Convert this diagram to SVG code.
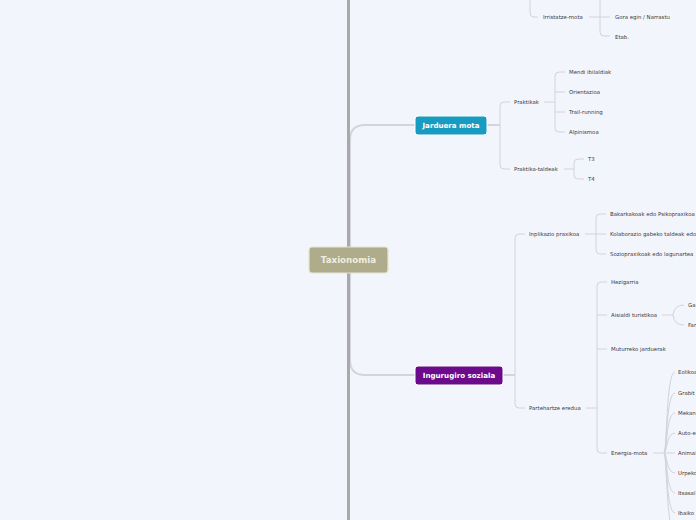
<svg xmlns="http://www.w3.org/2000/svg" width="696" height="520" viewBox="0 0 696 520">
<style>
.c{fill:none;stroke:#d2d2dc;stroke-width:1}
.m{fill:none;stroke:#d4d4de;stroke-width:2}
.t{font-family:"DejaVu Sans",Verdana,sans-serif;font-size:5.4px;fill:#3a3a3a}
.n{font-family:"DejaVu Sans",Verdana,sans-serif;font-size:7.1px;font-weight:bold;fill:#ffffff;text-anchor:middle}
</style>
<rect width="696" height="520" fill="#f3f5fd"/>
<g id="connectors">
<path class="m" d="M350 247 L350 140 Q350 125 365 125 L415 125"/>
<path class="m" d="M350 273 L350 360 Q350 375 365 375 L415 375"/>
<path class="m" d="M487 125 L500 125"/>
<path class="c" d="M510 102 L504 102 Q500 102 500 106 L500 165 Q500 169 504 169 L510 169"/>
<path class="c" d="M544 102 L555 102"/>
<path class="c" d="M565 72 L559 72 Q555 72 555 76 L555 128 Q555 132 559 132 L565 132 M555 92 L565 92 M555 112 L565 112"/>
<path class="c" d="M564 169 L574 169"/>
<path class="c" d="M584 159 L578 159 Q574 159 574 163 L574 175 Q574 179 578 179 L584 179"/>
<path class="c" d="M530 0 L530 13 Q530 17 534 17 L538 17"/>
<path class="c" d="M589 17 L600 17 M600 0 L600 32 Q600 36 604 36 L610 36 M600 17 L610 17"/>
<path class="m" d="M503 375 L515 375"/>
<path class="c" d="M525 234 L519 234 Q515 234 515 238 L515 404 Q515 408 519 408 L525 408"/>
<path class="c" d="M585 234 L596 234"/>
<path class="c" d="M606 214 L600 214 Q596 214 596 218 L596 250 Q596 254 600 254 L606 254 M596 234 L606 234"/>
<path class="c" d="M586 408 L597 408"/>
<path class="c" d="M607 282 L601 282 Q597 282 597 286 L597 449 Q597 453 601 453 L607 453 M597 315 L607 315 M597 349 L607 349"/>
<path class="c" d="M662 315 L673 315 M684 305 Q674 305 673 315 Q674 325 684 325"/>
<path class="c" d="M653 453 L664 453"/>
<path class="c" d="M664 453 C667 453 666 372 675 372 M664 453 C667 453 666 393 675 393 M664 453 C667 453 666 413 675 413 M664 453 C667 453 666 433 675 433 M664 453 L675 453 M664 453 C667 453 666 473 675 473 M664 453 C667 453 666 493 675 493 M664 453 C667 453 666 513 675 513 M664 453 C667 453 666 533 675 533"/>
<path d="M348.5 0 L348.5 520" stroke="#a9a9a9" stroke-width="3" fill="none"/>
</g>
<g id="root">
<rect x="309" y="247" width="79" height="26" rx="3" fill="#afac8c" stroke="#e6e4cf" stroke-width="1.2"/>
<text x="348.5" y="263.2" class="n" style="font-size:8.7px;fill:#efeedf">Taxionomia</text>
</g>
<g id="jarduera">
<rect x="415" y="116" width="72" height="19" rx="3" fill="#189bc0" stroke="#ffffff" stroke-width="1"/>
<text x="451" y="127.6" class="n">Jarduera mota</text>
</g>
<g id="ingurugiro">
<rect x="415" y="366" width="88" height="19" rx="3" fill="#6b0a8b" stroke="#ffffff" stroke-width="1"/>
<text x="459" y="377.6" class="n">Ingurugiro soziala</text>
</g>
<g id="irristatze"><text x="543" y="19" class="t">Irristatze-mota</text></g>
<g id="gora"><text x="615" y="19" class="t">Gora egin / Narrastu</text></g>
<g id="etab"><text x="615" y="38.5" class="t">Etab.</text></g>
<g id="praktikak"><text x="514" y="104" class="t">Praktikak</text></g>
<g id="mendi"><text x="569" y="74" class="t">Mendi ibilaldiak</text></g>
<g id="orientazioa"><text x="569" y="94" class="t">Orientazioa</text></g>
<g id="trail"><text x="569" y="114" class="t">Trail-running</text></g>
<g id="alpinismoa"><text x="569" y="133.5" class="t">Alpinismoa</text></g>
<g id="praktika-taldeak"><text x="514" y="171" class="t">Praktika-taldeak</text></g>
<g id="t3"><text x="588" y="161" class="t">T3</text></g>
<g id="t4"><text x="588" y="181" class="t">T4</text></g>
<g id="inplikazio"><text x="529" y="236" class="t">Inplikazio praxikoa</text></g>
<g id="bakarkakoak"><text x="610" y="216" class="t">Bakarkakoak edo Psikopraxikoa</text></g>
<g id="kolaborazio"><text x="610" y="236" class="t">Kolaborazio gabeko taldeak edo</text></g>
<g id="soziopraxikoak"><text x="610" y="256" class="t">Soziopraxikoak edo lagunartea</text></g>
<g id="partehartze"><text x="529" y="410" class="t">Partehartze eredua</text></g>
<g id="hezigarria"><text x="611" y="284" class="t">Hezigarria</text></g>
<g id="aisialdi"><text x="611" y="317" class="t">Aisialdi turistikoa</text></g>
<g id="ga"><text x="688" y="307" class="t">Ga</text></g>
<g id="far"><text x="688" y="327" class="t">Far</text></g>
<g id="muturreko"><text x="611" y="351" class="t">Muturreko jarduerak</text></g>
<g id="energia"><text x="611" y="455" class="t">Energia-mota</text></g>
<g id="e1"><text x="678" y="374" class="t">Eolikoa</text></g>
<g id="e2"><text x="678" y="395" class="t">Grabit</text></g>
<g id="e3"><text x="678" y="415" class="t">Mekani</text></g>
<g id="e4"><text x="678" y="435" class="t">Auto-e</text></g>
<g id="e5"><text x="678" y="455" class="t">Animal</text></g>
<g id="e6"><text x="678" y="475" class="t">Urpeko</text></g>
<g id="e7"><text x="678" y="495" class="t">Itsasal</text></g>
<g id="e8"><text x="678" y="515" class="t">Ibaiko</text></g>
</svg>
